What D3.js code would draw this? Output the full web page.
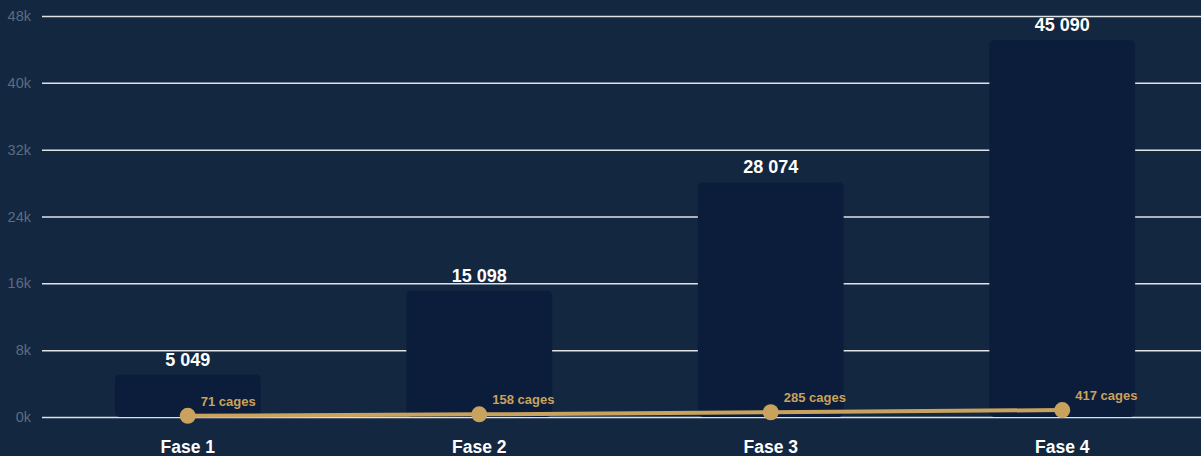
<!DOCTYPE html>
<html>
<head>
<meta charset="utf-8">
<script src="https://cdn.jsdelivr.net/npm/d3@7"></script>
<style>
  html, body { margin: 0; padding: 0; background: #132740; overflow: hidden; }
  #chart { width: 1201px; height: 456px; }
</style>
</head>
<body>
<div id="chart"></div>
<script>
(function () {
    // Chart data
    const phases = ["Fase 1", "Fase 2", "Fase 3", "Fase 4"];
    const amounts = [5049, 15098, 28074, 45090];
    const cages = [71, 158, 285, 417];
    const yTicks = [0, 8000, 16000, 24000, 32000, 40000, 48000];

    const width = 1201;
    const height = 456;
    const margin = { top: 16, right: 0, bottom: 39, left: 42 };

    const svg = d3.select("#chart")
      .append("svg")
        .attr("width", width)
        .attr("height", height)
        .style("font-family", "'Liberation Sans', Arial, sans-serif");

    svg.append("rect")
        .attr("width", width)
        .attr("height", height)
        .attr("fill", "#132740");

    // Scales (the band range runs a little past the right edge, like the original)
    const x = d3.scaleBand()
      .domain(phases)
      .range([margin.left, 1208])
      .paddingInner(0.5)
      .paddingOuter(0.25);

    const y = d3.scaleLinear()
      .domain([0, 48000])
      .range([height - margin.bottom, margin.top]);

    // cages are drawn on their own (secondary) scale
    const y2 = d3.scaleLinear()
      .domain([0, 24000])
      .range([height - margin.bottom, margin.top]);

    // Gridlines + tick labels
    const yAxis = svg.append("g")
      .attr("transform", `translate(${margin.left},0)`)
      .call(d3.axisLeft(y)
        .tickValues(yTicks)
        .tickSize(-(width - margin.left))
        .tickPadding(11)
        .tickFormat(d => (d / 1000) + "k"));

    yAxis.select(".domain").remove();
    yAxis.selectAll(".tick line")
      .attr("stroke", "#dfe3e8")
      .attr("stroke-width", 1.5);
    yAxis.selectAll(".tick text")
      .attr("fill", "#5d6c80")
      .style("font-size", "14.5px")
      .style("font-family", "'Liberation Sans', Arial, sans-serif");

    // Bars
    svg.append("g")
      .selectAll("rect")
      .data(amounts)
      .enter()
      .append("rect")
        .attr("x", (d, i) => x(phases[i]))
        .attr("y", d => y(d))
        .attr("width", x.bandwidth())
        .attr("height", d => y(0) - y(d))
        .attr("rx", 5)
        .attr("fill", "#0b1d3a");

    // Bar value labels
    svg.append("g")
      .selectAll("text")
      .data(amounts)
      .enter()
      .append("text")
        .attr("x", (d, i) => x(phases[i]) + x.bandwidth() / 2)
        .attr("y", d => y(d) - 9)
        .attr("text-anchor", "middle")
        .attr("fill", "#ffffff")
        .style("font-size", "18px")
        .style("font-weight", "bold")
        .text(d => d3.format(",")(d).replace(/,/g, " "));

    // Cage line
    const line = d3.line()
      .x((d, i) => x(phases[i]) + x.bandwidth() / 2)
      .y(d => y2(d));

    svg.append("path")
      .datum(cages)
      .attr("d", line)
      .attr("fill", "none")
      .attr("stroke", "#c9a35d")
      .attr("stroke-width", 4);

    svg.append("g")
      .selectAll("circle")
      .data(cages)
      .enter()
      .append("circle")
        .attr("cx", (d, i) => x(phases[i]) + x.bandwidth() / 2)
        .attr("cy", d => y2(d))
        .attr("r", 8)
        .attr("fill", "#c9a35d");

    svg.append("g")
      .selectAll("text")
      .data(cages)
      .enter()
      .append("text")
        .attr("x", (d, i) => x(phases[i]) + x.bandwidth() / 2 + 13)
        .attr("y", d => y2(d) - 10)
        .attr("fill", "#c9a35d")
        .style("font-size", "13px")
        .style("font-weight", "bold")
        .text(d => d + " cages");

    // Category labels
    svg.append("g")
      .selectAll("text")
      .data(phases)
      .enter()
      .append("text")
        .attr("x", d => x(d) + x.bandwidth() / 2)
        .attr("y", 453)
        .attr("text-anchor", "middle")
        .attr("fill", "#ffffff")
        .style("font-size", "17.5px")
        .style("font-weight", "bold")
        .text(d => d);
})();
</script>
</body>
</html>
